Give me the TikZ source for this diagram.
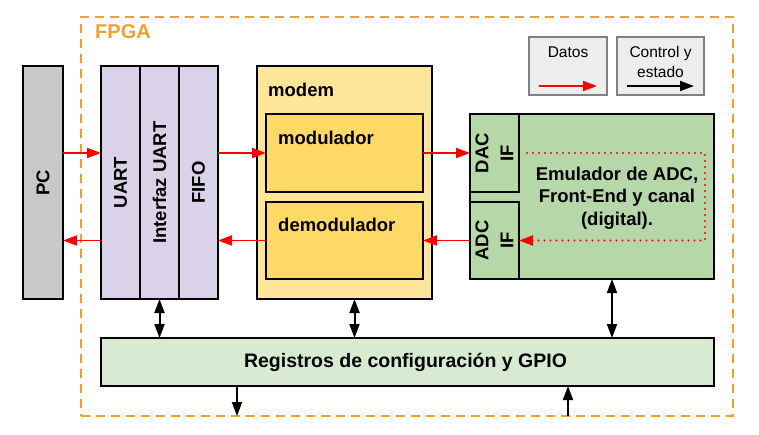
\documentclass[tikz,border=0pt]{standalone}
\usepackage{fontspec}
\setmainfont{Liberation Sans}
\usepackage{tikz}
\usetikzlibrary{positioning}
\usetikzlibrary{calc}
\usetikzlibrary{arrows.meta}
\definecolor{pcgray}{HTML}{C8C8C8}
\definecolor{uartlila}{HTML}{D9D2E9}
\definecolor{modemlight}{HTML}{FFE599}
\definecolor{modemdark}{HTML}{FFD966}
\definecolor{emulgreen}{HTML}{B6D7A8}
\definecolor{reggreen}{HTML}{D9EAD3}
\definecolor{fpgaorange}{HTML}{F0A030}
\definecolor{legendgray}{HTML}{EDEDED}
\tikzstyle{blk} = [rectangle, draw=black, line width=2pt, outer sep=0pt, inner sep=0pt]
\tikzstyle{lbl} = [inner sep=0pt, font=\fontsize{18.5}{22}\selectfont\bfseries]
\tikzstyle{fpgaframe} = [rectangle, draw=fpgaorange, line width=2pt, dash pattern=on 9pt off 6pt,
outer sep=0pt, inner sep=0pt]
\tikzstyle{legendbox} = [rectangle, draw=gray, fill=legendgray, line width=1.2pt, outer sep=0pt,
inner sep=0pt, minimum width=78pt, minimum height=58pt]
\tikzstyle{legendtxt} = [inner sep=0pt, align=center, font=\fontsize{15.5}{20}\selectfont]
\tikzstyle{datarrow} = [-{Triangle[length=14pt,width=10pt]}, red, line width=1.8pt]
\tikzstyle{ctrlarrow} = [-{Triangle[length=14pt,width=10pt]}, black, line width=2pt]
\tikzstyle{ctrlboth} = [{Triangle[length=14pt,width=10pt]}-{Triangle[length=14pt,width=10pt]},
black, line width=2pt]

\begin{document}
\begin{tikzpicture}[x=1pt, y=1pt]
  \useasboundingbox (0,0) rectangle (759,-434);
  % fpga frame
  \node[fpgaframe, minimum width=652pt, minimum height=399pt] (fpga) at (407,-216.5) {};
  \node[lbl, text=fpgaorange, font=\fontsize{20}{24}\selectfont\bfseries,
        below right = 7pt and 14pt of fpga.north west] (fpgatxt) {FPGA};
  % pc
  \node[blk, fill=pcgray, minimum width=40pt, minimum height=233pt] (pc) at (43,-182.5) {};
  \node[lbl, rotate=90] (pctxt) at (pc) {PC};
  % uart stack
  \node[blk, fill=uartlila, minimum width=39pt, minimum height=233pt, right = 38pt of pc] (uart) {};
  \node[blk, fill=uartlila, minimum width=39pt, minimum height=233pt, right = 0pt of uart] (iuart) {};
  \node[blk, fill=uartlila, minimum width=39pt, minimum height=233pt, right = 0pt of iuart] (fifo) {};
  \node[lbl, rotate=90] (uarttxt) at (uart) {UART};
  \node[lbl, rotate=90] (iuarttxt) at (iuart) {Interfaz UART};
  \node[lbl, rotate=90] (fifotxt) at (fifo) {FIFO};
  % modem
  \node[blk, fill=modemlight, minimum width=175pt, minimum height=233pt, right = 39pt of fifo] (modem) {};
  \node[lbl, below right = 17pt and 11pt of modem.north west] (modemtxt) {modem};
  \node[blk, fill=modemdark, minimum width=157pt, minimum height=78pt,
        below right = 48pt and 9pt of modem.north west] (mod) {};
  \node[blk, fill=modemdark, minimum width=157pt, minimum height=77pt, below = 10pt of mod] (demod) {};
  \node[lbl, below right = 17pt and 12pt of mod.north west] (modtxt) {modulador};
  \node[lbl, below right = 16pt and 12pt of demod.north west] (demodtxt) {demodulador};
  % emulator
  \node[blk, fill=emulgreen, minimum width=244pt, minimum height=165pt] (emul) at (592,-196.5) {};
  \node[blk, fill=emulgreen, minimum width=49pt, minimum height=78pt, anchor=north west] (dacif) at (emul.north west) {};
  \node[blk, fill=emulgreen, minimum width=49pt, minimum height=77pt, anchor=south west] (adcif) at (emul.south west) {};
  \node[lbl, rotate=90, align=center, font=\fontsize{18.5}{25}\selectfont\bfseries] (dactxt) at (dacif) {DAC\\IF};
  \node[lbl, rotate=90, align=center, font=\fontsize{18.5}{25}\selectfont\bfseries] (adctxt) at (adcif) {ADC\\IF};
  \node[lbl, align=center, font=\fontsize{18.5}{22.5}\selectfont\bfseries]
        (emultxt) at ([xshift=-97pt, yshift=-1.5pt]emul.east) {Emulador de ADC,\\Front-End y canal\\(digital).};
  % registers
  \node[blk, fill=reggreen, minimum width=613pt, minimum height=48pt,
        below right = 39pt and 0pt of uart.south west] (regs) {};
  \node[lbl, font=\fontsize{19.5}{22}\selectfont\bfseries] (regstxt) at ([xshift=-2pt]regs) {Registros de configuración y GPIO};
  % legend
  \node[legendbox, anchor=north west] (datos) at (529,-37) {};
  \node[legendbox, minimum width=87pt, right = 10pt of datos] (ctrl) {};
  \node[legendtxt] (datostxt) at ([yshift=-15pt]datos.north) {Datos};
  \node[legendtxt] (ctrltxt) at ([yshift=-25pt]ctrl.north) {Control y\\estado};
  \coordinate (datosa) at ([xshift=10pt, yshift=9pt]datos.south west);
  \coordinate (datosb) at ([xshift=-10pt, yshift=9pt]datos.south east);
  \coordinate (ctrla) at ([xshift=10pt, yshift=9pt]ctrl.south west);
  \coordinate (ctrlb) at ([xshift=-10pt, yshift=9pt]ctrl.south east);

  % edges
  % data path
  \draw[datarrow] (pc.east |- mod.west) -- (uart.west |- mod.west);
  \draw[datarrow] (uart.west |- demod.west) -- (pc.east |- demod.west);
  \draw[datarrow] (fifo.east |- mod.west) -- (mod.west);
  \draw[datarrow] (demod.west) -- (fifo.east |- demod.west);
  \draw[datarrow] (mod.east) -- (dacif.west);
  \draw[datarrow] (adcif.west) -- (demod.east);
  \draw[datarrow, line width=2.2pt, line cap=round, dash pattern=on 0pt off 6pt]
        ([xshift=8pt]dacif.east) -| ([xshift=-9pt]emul.east |- adcif.east) -- (adcif.east);
  % control
  \draw[ctrlboth] (iuart.south) -- (iuart.south |- regs.north);
  \draw[ctrlboth] ([xshift=10pt]modem.south) -- ([xshift=10pt]modem.south |- regs.north);
  \draw[ctrlboth] ([xshift=20pt]emul.south) -- ([xshift=20pt]emul.south |- regs.north);
  \draw[ctrlarrow] ([xshift=136pt]regs.south west) -- ([xshift=136pt]regs.south west |- fpga.south);
  \draw[ctrlarrow] ([xshift=467pt]regs.south west |- fpga.south) -- ([xshift=467pt]regs.south west);
  % legend
  \draw[datarrow] (datosa) -- (datosb);
  \draw[ctrlarrow] (ctrla) -- (ctrlb);
\end{tikzpicture}
\end{document}
